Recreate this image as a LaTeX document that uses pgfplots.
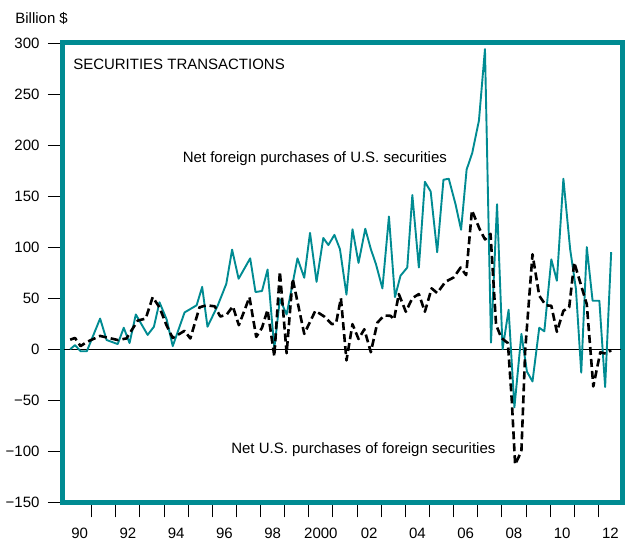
\documentclass[border=0pt]{standalone}
\usepackage{fontspec}
\setmainfont{Liberation Sans}
\usepackage{pgfplots}
\pgfplotsset{compat=1.18}
\definecolor{fedteal}{RGB}{0,139,146}
\newcommand{\lbl}{\fontsize{15bp}{18bp}\selectfont}

\begin{document}
\begin{tikzpicture}
\begin{axis}[
  width=560bp, height=459.7bp, scale only axis,
  xmin=1989.81, xmax=2013.0, ymin=-150, ymax=300,
  axis line style={draw=fedteal, line width=5bp},
  tick style={black, line width=0.9bp},
  tick align=outside, major tick length=15bp,
  xtick={1991,...,2012}, xticklabels={},
  extra x ticks={1990.5,1992.5,...,2012.5},
  extra x tick labels={90,92,94,96,98,2000,02,04,06,08,10,12},
  extra x tick style={major tick length=0pt, tick label style={yshift=-22bp}},
  ytick={-150,-100,...,300},
  yticklabels={−150,−100,−50,0,50,100,150,200,250,300},
  yticklabel style={xshift=-5bp},
  xtick pos=left, ytick pos=left,
  tick label style={font=\lbl},
  clip=false,
]
\path ([xshift=-63bp,yshift=-37.3bp]rel axis cs:0,0) rectangle ([xshift=2bp,yshift=43bp]rel axis cs:1,1);

\addplot[black, line width=1bp] coordinates {(1989.85,0) (2012.95,0)};

% net foreign purchases of U.S. securities
\addplot[fedteal, line width=1.9bp, line join=round] coordinates {
(1990.11,0) (1990.31,4) (1990.54,-2) (1990.80,-2) (1991.35,30) (1991.62,9)
(1992.08,5) (1992.33,21) (1992.57,6) (1992.83,34) (1993.32,14) (1993.58,22)
(1993.81,46) (1994.11,29) (1994.36,3) (1994.85,36) (1995.35,43) (1995.58,61)
(1995.80,22) (1996.22,42.5) (1996.58,64) (1996.82,97.5) (1997.09,69) (1997.57,89)
(1997.79,56) (1998.06,57) (1998.29,78) (1998.57,1) (1998.80,49) (1999.08,34)
(1999.53,89) (1999.81,70) (2000.05,114) (2000.32,66) (2000.60,109) (2000.81,102)
(2001.06,112) (2001.29,98) (2001.56,53.5) (2001.81,117.5) (2002.06,84.5) (2002.34,118)
(2002.57,98) (2002.78,83.5) (2003.05,59.6) (2003.32,130) (2003.57,51) (2003.80,72)
(2004.08,80) (2004.29,151) (2004.56,80) (2004.81,164) (2005.05,154.5) (2005.32,95)
(2005.58,166) (2005.80,167) (2006.08,142) (2006.31,117) (2006.54,176) (2006.77,192)
(2007.05,224) (2007.30,294) (2007.55,6.5) (2007.80,142) (2008.03,0) (2008.28,38.6)
(2008.52,-57) (2008.81,15) (2009.04,-22) (2009.27,-31.6) (2009.55,21) (2009.76,17.5)
(2010.05,88) (2010.28,67) (2010.55,167) (2010.83,98) (2011.07,59) (2011.29,-23)
(2011.52,100) (2011.76,47.5) (2012.04,47.5) (2012.28,-37) (2012.53,95)
};

% net U.S. purchases of foreign securities
\addplot[black, line width=2.6bp, dash pattern=on 8bp off 4bp, line join=round] coordinates {
(1990.11,9.3) (1990.31,11) (1990.54,3) (1990.79,7) (1991.35,13) (1992.08,9)
(1992.44,10.5) (1992.91,28) (1993.24,30) (1993.53,51) (1993.81,41) (1994.11,23)
(1994.36,11) (1994.85,18) (1995.09,10.5) (1995.47,41) (1995.75,43) (1996.10,42)
(1996.33,32) (1996.60,34) (1996.85,42) (1997.10,23.5) (1997.54,51) (1997.82,12)
(1998.06,21) (1998.29,38.6) (1998.57,-7) (1998.80,76) (1999.08,-4) (1999.33,69)
(1999.81,15) (2000.27,37.6) (2000.64,32) (2000.96,24.5) (2001.13,25.5) (2001.33,50)
(2001.56,-11) (2001.81,24.5) (2002.06,10) (2002.30,19.5) (2002.57,-3) (2002.84,26)
(2003.12,33) (2003.39,32.7) (2003.53,29) (2003.73,54) (2004.02,36.7) (2004.29,50)
(2004.56,54) (2004.81,36.7) (2005.09,59.6) (2005.32,55) (2005.66,66) (2006.01,70.4)
(2006.29,80) (2006.52,72.6) (2006.76,136) (2007.08,117.6) (2007.30,107.5) (2007.53,113)
(2007.76,24) (2007.98,11) (2008.25,6) (2008.41,-49.6) (2008.55,-113) (2008.81,-100)
(2008.97,0) (2009.27,93) (2009.55,52.4) (2009.82,43) (2010.05,42.5) (2010.28,17)
(2010.55,37.6) (2010.79,41) (2011.00,85) (2011.29,62) (2011.52,44) (2011.79,-36.5)
(2012.08,-3) (2012.31,-4.4) (2012.53,-1)
};

\node[font=\lbl, anchor=west, inner sep=0pt] at (axis cs:1990.23,279.5) {SECURITIES TRANSACTIONS};
\node[font=\lbl, anchor=base west, inner sep=0pt] at (axis cs:1994.77,182.8) {Net foreign purchases of U.S. securities};
\node[font=\lbl, anchor=base east, inner sep=0pt] at (axis cs:2007.74,-102.3) {Net U.S. purchases of foreign securities};
\node[font=\lbl, anchor=base west, inner sep=0pt] at (axis cs:1987.83,319.3) {Billion \$};
\end{axis}
\end{tikzpicture}
\end{document}
